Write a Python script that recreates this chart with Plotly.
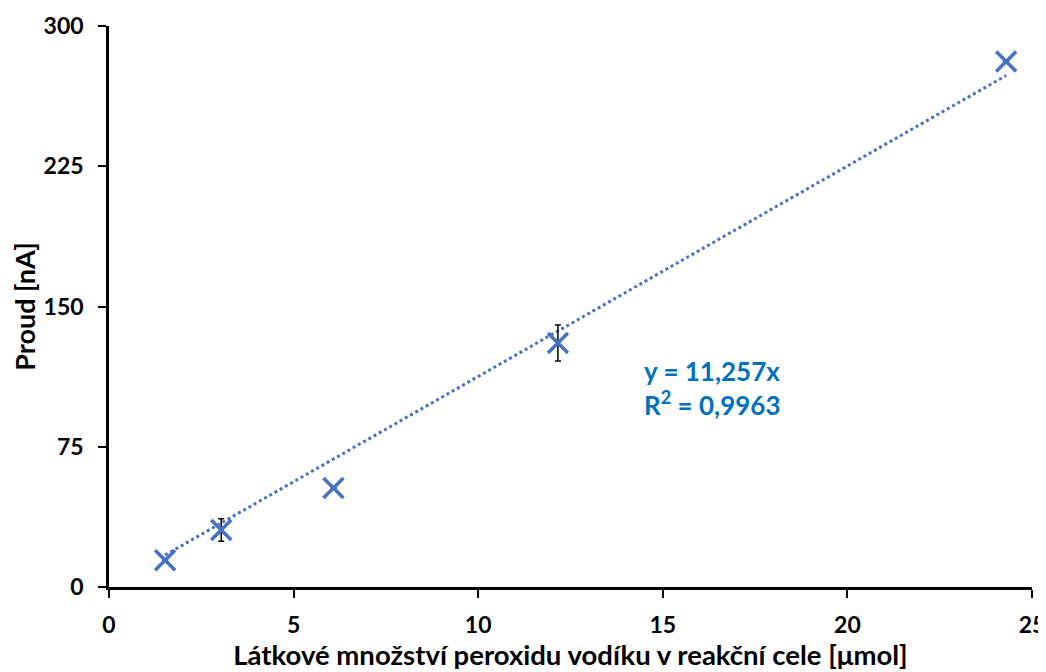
import plotly.graph_objects as go

x_vals = [1.52, 3.04, 6.08, 12.16, 24.3]
y_vals = [14.3, 30.5, 53.0, 130.5, 281.0]
err_vals = [0, 6.0, 0, 9.6, 0]
slope = 11.257
x_ticks = [0, 5, 10, 15, 20, 25]
y_ticks = [0, 75, 150, 225, 300]

font_family = "Lato, 'Open Sans', sans-serif"

trend_x = [min(x_vals), max(x_vals)]
trend_y = [slope * v for v in trend_x]

fig = go.Figure()
fig.add_trace(go.Scatter(
    x=trend_x, y=trend_y, mode="lines",
    line=dict(color="#4472C4", width=3, dash="dot"),
    showlegend=False, hoverinfo="skip"))
fig.add_trace(go.Scatter(
    x=x_vals, y=y_vals, mode="markers",
    marker=dict(symbol="x-thin", size=20, line=dict(color="#4472C4", width=3.5), color="#4472C4"),
    error_y=dict(type="data", array=err_vals, visible=True, color="black", thickness=1.5, width=3),
    showlegend=False))

fig.add_annotation(x=14.44, y=0.355, xref="x", yref="paper",
                   text="<b>y = 11,257x</b><br><b>R<sup>2</sup> = 0,9963</b>",
                   showarrow=False, align="left", xanchor="left", yanchor="middle",
                   font=dict(family=font_family, size=26, color="#0070C0"))

fig.update_layout(
    width=1046, height=664,
    margin=dict(l=101, r=22, t=18, b=85),
    paper_bgcolor="white", plot_bgcolor="white",
    font=dict(family=font_family, size=23, color="black"),
    xaxis=dict(range=[0, 25], tickvals=x_ticks, showgrid=False, zeroline=False,
               showline=True, linecolor="black", linewidth=2.5, automargin=False,
               ticks="outside", ticklen=8, tickwidth=2, tickcolor="black",
               ticklabelstandoff=8,
               tickfont=dict(family=font_family, size=23, color="black", weight="bold"),
               title=dict(text="Látkové množství peroxidu vodíku v reakční cele [μmol]", standoff=8,
                          font=dict(family=font_family, size=27.5, color="black", weight="bold"))),
    yaxis=dict(range=[0, 300], tickvals=y_ticks, showgrid=False, zeroline=False,
               showline=True, linecolor="black", linewidth=2.5, automargin=False,
               ticks="outside", ticklen=8, tickwidth=2, tickcolor="black",
               ticklabelstandoff=10,
               tickfont=dict(family=font_family, size=23, color="black", weight="bold"),
               title=dict(text="Proud [nA]", standoff=6,
                          font=dict(family=font_family, size=27, color="black", weight="bold"))),
)

fig.write_html("out.html", post_script="document.documentElement.style.overflow='hidden';document.body.style.overflow='hidden';")
